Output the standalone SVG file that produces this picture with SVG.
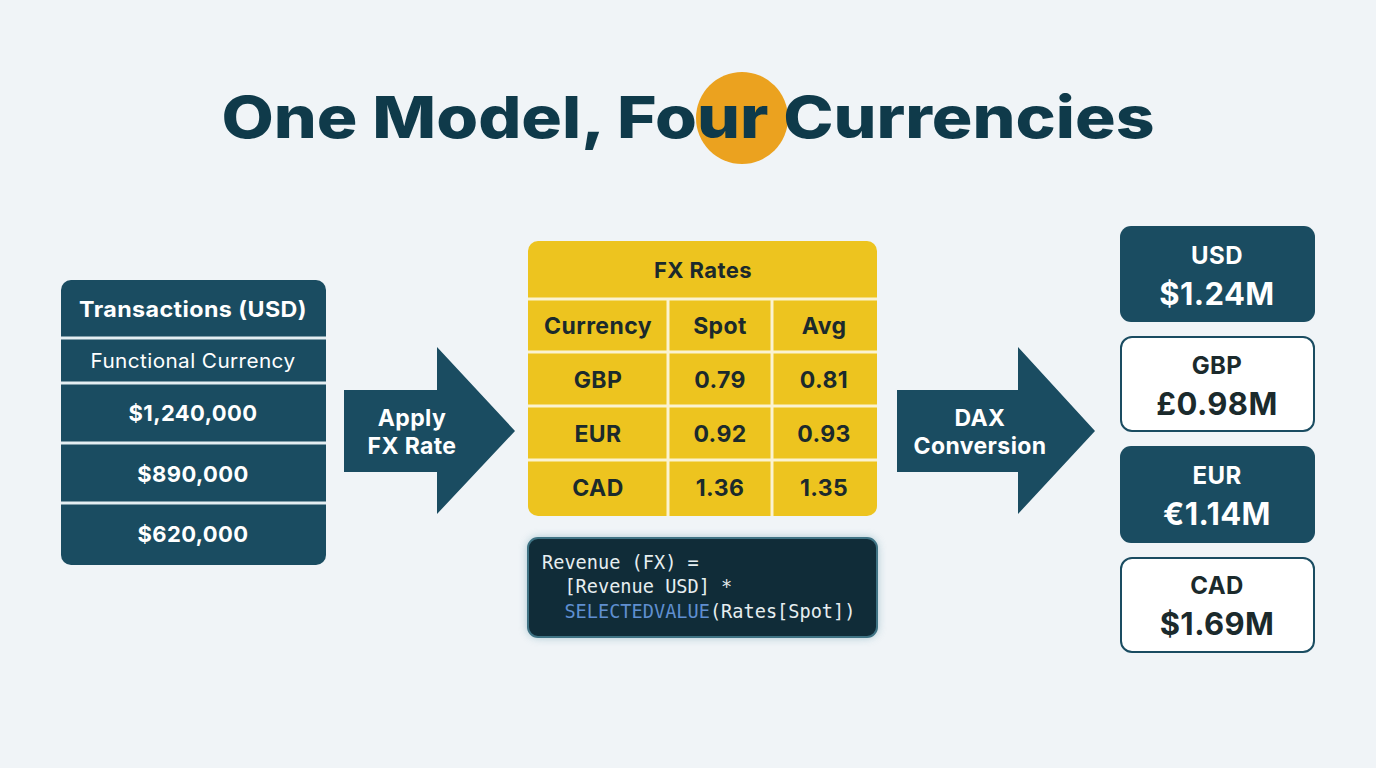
<svg xmlns="http://www.w3.org/2000/svg" width="1376" height="768" viewBox="0 0 1376 768">
<defs>
<style>
.t{font-family:"Inter","Open Sans","Liberation Sans",sans-serif;font-weight:700;text-anchor:middle;letter-spacing:0.4px}
.r{font-weight:400}
.w{fill:#ffffff}
.d{fill:#1b2a2c}
.teal{fill:#1a4c61}
.sep{stroke:#e4eef2;stroke-width:3}
.ysep{stroke:#fbf3d0;stroke-width:3}
.code{font-family:"DejaVu Sans Mono","Liberation Mono",monospace;font-size:18.6px;fill:#e6eef0}
</style>
<filter id="glow" x="-20%" y="-30%" width="140%" height="160%">
<feGaussianBlur stdDeviation="5"/>
</filter>
</defs>
<rect width="1376" height="768" fill="#f0f4f7"/>

<g id="title">
<circle cx="742" cy="118" r="46" fill="#eba21f"/>
<text x="688" y="138" class="t" font-size="58" style="font-weight:800;letter-spacing:0" fill="#0f3a4a" textLength="933" lengthAdjust="spacingAndGlyphs">One Model, Four Currencies</text>
</g>

<g id="transactions">
<rect x="61" y="280" width="265" height="285" rx="10" class="teal"/>
<line x1="61" y1="338" x2="326" y2="338" class="sep"/>
<line x1="61" y1="383" x2="326" y2="383" class="sep"/>
<line x1="61" y1="443" x2="326" y2="443" class="sep"/>
<line x1="61" y1="503" x2="326" y2="503" class="sep"/>
<text x="193" y="317" class="t w" font-size="22" textLength="228" lengthAdjust="spacingAndGlyphs">Transactions (USD)</text>
<text x="193" y="368" class="t w r" font-size="20" textLength="205" lengthAdjust="spacingAndGlyphs">Functional Currency</text>
<text x="193" y="421" class="t w" font-size="22">$1,240,000</text>
<text x="193" y="482" class="t w" font-size="22">$890,000</text>
<text x="193" y="542" class="t w" font-size="22">$620,000</text>
</g>

<g id="connectors">
<g id="arrow-apply">
<polygon points="344,390 437,390 437,347 515,431 437,514 437,472 344,472" class="teal"/>
<text x="412" y="426" class="t w" font-size="23">Apply</text>
<text x="412" y="454" class="t w" font-size="23">FX Rate</text>
</g>
<g id="arrow-dax">
<polygon points="897,390 1018,390 1018,347 1095,431 1018,514 1018,472 897,472" class="teal"/>
<text x="980" y="426" class="t w" font-size="23">DAX</text>
<text x="980" y="454" class="t w" font-size="23">Conversion</text>
</g>
</g>

<g id="fx-rates">
<rect x="528" y="241" width="349" height="275" rx="10" fill="#edc41f"/>
<line x1="528" y1="299" x2="877" y2="299" class="ysep"/>
<line x1="528" y1="352" x2="877" y2="352" class="ysep"/>
<line x1="528" y1="406" x2="877" y2="406" class="ysep"/>
<line x1="528" y1="460" x2="877" y2="460" class="ysep"/>
<line x1="668" y1="299" x2="668" y2="516" class="ysep"/>
<line x1="772" y1="299" x2="772" y2="516" class="ysep"/>
<text x="703" y="278" class="t d" font-size="22">FX Rates</text>
<text x="598" y="334" class="t d" font-size="23">Currency</text>
<text x="720" y="334" class="t d" font-size="23">Spot</text>
<text x="824" y="334" class="t d" font-size="23">Avg</text>
<text x="598" y="388" class="t d" font-size="23">GBP</text>
<text x="720" y="388" class="t d" font-size="23">0.79</text>
<text x="824" y="388" class="t d" font-size="23">0.81</text>
<text x="598" y="442" class="t d" font-size="23">EUR</text>
<text x="720" y="442" class="t d" font-size="23">0.92</text>
<text x="824" y="442" class="t d" font-size="23">0.93</text>
<text x="598" y="496" class="t d" font-size="23">CAD</text>
<text x="720" y="496" class="t d" font-size="23">1.36</text>
<text x="824" y="496" class="t d" font-size="23">1.35</text>
</g>

<g id="dax-code">
<rect x="528" y="538" width="349" height="99" rx="10" fill="#5f98aa" opacity="0.6" filter="url(#glow)"/>
<rect x="528" y="538" width="349" height="99" rx="10" fill="#102c38" stroke="#3f7384" stroke-width="2"/>
<text x="542" y="569" class="code">Revenue (FX) =</text>
<text x="542" y="593" class="code" xml:space="preserve">  [Revenue USD] *</text>
<text x="542" y="618" class="code" xml:space="preserve">  <tspan fill="#5f8fd0">SELECTEDVALUE</tspan>(Rates[Spot])</text>
</g>

<g id="out-usd">
<rect x="1120" y="226" width="195" height="96" rx="11" class="teal"/>
<text x="1217" y="264" class="t w" font-size="24">USD</text>
<text x="1217" y="305" class="t w" font-size="31">$1.24M</text>
</g>
<g id="out-gbp">
<rect x="1121" y="337" width="193" height="94" rx="11" fill="#ffffff" stroke="#1a4c61" stroke-width="2"/>
<text x="1217" y="374" class="t d" font-size="24">GBP</text>
<text x="1217" y="415" class="t d" font-size="31">£0.98M</text>
</g>
<g id="out-eur">
<rect x="1120" y="446" width="195" height="97" rx="11" class="teal"/>
<text x="1217" y="484" class="t w" font-size="24">EUR</text>
<text x="1217" y="525" class="t w" font-size="31">€1.14M</text>
</g>
<g id="out-cad">
<rect x="1121" y="558" width="193" height="94" rx="11" fill="#ffffff" stroke="#1a4c61" stroke-width="2"/>
<text x="1217" y="594" class="t d" font-size="24">CAD</text>
<text x="1217" y="635" class="t d" font-size="31">$1.69M</text>
</g>
</svg>
